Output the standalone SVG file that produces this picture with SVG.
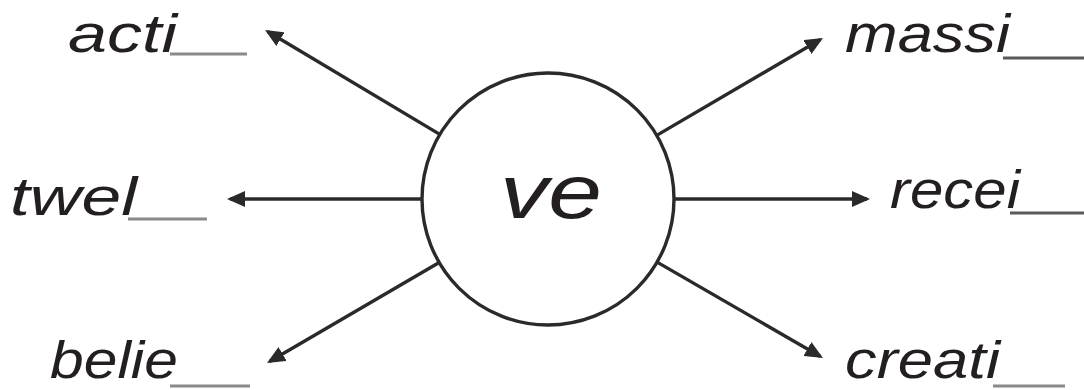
<svg xmlns="http://www.w3.org/2000/svg" width="1084" height="390" viewBox="0 0 1084 390">
<style>
.lbl{font-family:"Liberation Sans",Arial,sans-serif;font-style:italic;font-size:54px;fill:#231f20}
.low{font-size:51px}
.blank{stroke:#8a8a8a;stroke-width:3}
.conn{stroke:#2a2a2a;stroke-width:3.4;fill:none}
</style>
<defs>
<marker id="ah" viewBox="0 0 18 16" refX="15" refY="8" markerWidth="18" markerHeight="16" markerUnits="userSpaceOnUse" orient="auto">
<path d="M0,0 L18,8 L0,16 Z" fill="#2a2a2a"/>
</marker>
</defs>
<rect width="1084" height="390" fill="#fff"/>
<g id="connectors">
<line class="conn" x1="439.8" y1="134.4" x2="267.6" y2="31.5" marker-end="url(#ah)"/>
<line class="conn" x1="422" y1="199" x2="230" y2="199" marker-end="url(#ah)"/>
<line class="conn" x1="439.2" y1="262.5" x2="269.6" y2="361.5" marker-end="url(#ah)"/>
<line class="conn" x1="656.7" y1="135.4" x2="820.4" y2="39.5" marker-end="url(#ah)"/>
<line class="conn" x1="674" y1="199" x2="867" y2="199" marker-end="url(#ah)"/>
<line class="conn" x1="657.1" y1="262.1" x2="820.4" y2="356.5" marker-end="url(#ah)"/>
</g>
<g id="center">
<circle cx="548" cy="199" r="126" fill="#fff" stroke="#2a2a2a" stroke-width="3.4"/>
<text class="lbl" x="500" y="218" style="font-size:76px" textLength="102" lengthAdjust="spacingAndGlyphs">ve</text>
</g>
<g id="acti">
<text class="lbl" x="68" y="52" textLength="109" lengthAdjust="spacingAndGlyphs">acti</text>
<line class="blank" x1="170" y1="54" x2="247" y2="54"/>
</g>
<g id="twel">
<text class="lbl" x="10" y="215" textLength="127" lengthAdjust="spacingAndGlyphs">twel</text>
<line class="blank" x1="128" y1="219" x2="207" y2="219"/>
</g>
<g id="belie">
<text class="lbl low" x="50" y="378" textLength="128" lengthAdjust="spacingAndGlyphs">belie</text>
<line class="blank" x1="170" y1="386" x2="250" y2="386"/>
</g>
<g id="massi">
<text class="lbl" x="845" y="52" textLength="165" lengthAdjust="spacingAndGlyphs">massi</text>
<line class="blank" x1="1003" y1="58" x2="1084" y2="58" style="stroke:#5a5a5a"/>
</g>
<g id="recei">
<text class="lbl" x="890" y="208" textLength="130" lengthAdjust="spacingAndGlyphs">recei</text>
<line class="blank" x1="1010" y1="213" x2="1084" y2="213" style="stroke:#5a5a5a"/>
</g>
<g id="creati">
<text class="lbl low" x="845" y="378" textLength="155" lengthAdjust="spacingAndGlyphs">creati</text>
<line class="blank" x1="993" y1="386" x2="1065" y2="386"/>
</g>
</svg>
